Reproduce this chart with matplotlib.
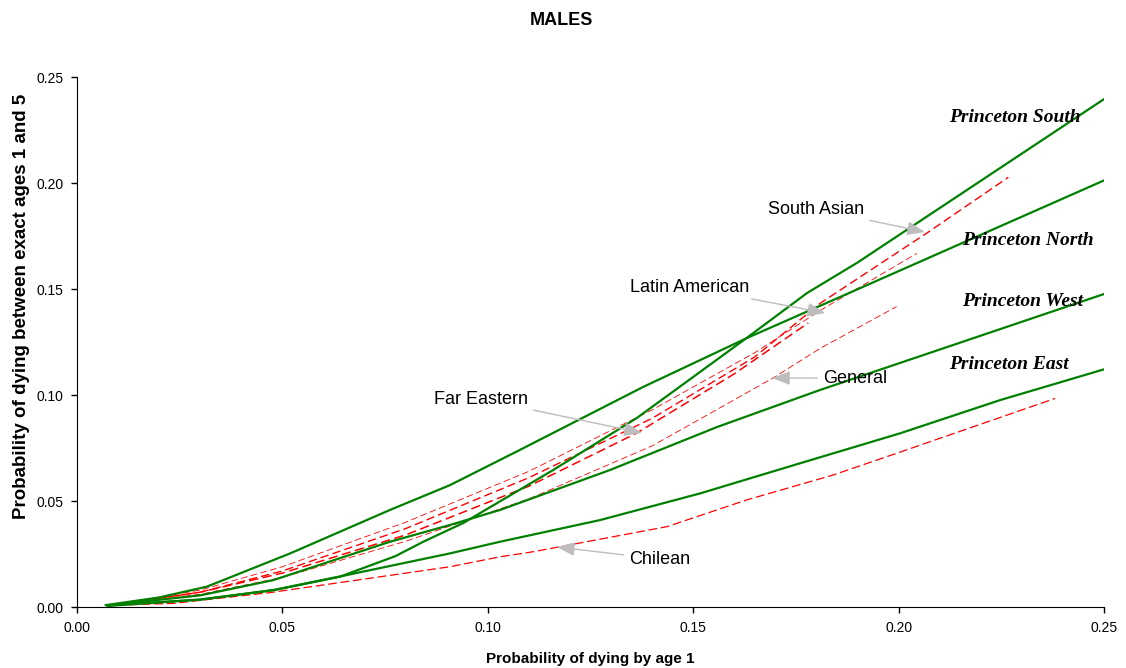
import matplotlib
matplotlib.use("Agg")
import matplotlib.pyplot as plt

# Princeton (Coale-Demeny) regional models, males: 1q0 vs 4q1
south_q0 = [0.0075, 0.030, 0.048, 0.064, 0.0775, 0.0843, 0.094, 0.1159, 0.1363, 0.163, 0.1777, 0.190, 0.262]
south_q1 = [0.0008, 0.0035, 0.008, 0.0143, 0.024, 0.0308, 0.0396, 0.0646, 0.0892, 0.1269, 0.1481, 0.1625, 0.255]
north_q0 = [0.0070, 0.020, 0.0316, 0.0519, 0.0762, 0.0908, 0.1078, 0.1378, 0.1631, 0.1857, 0.262]
north_q1 = [0.0009, 0.0045, 0.0096, 0.0253, 0.0458, 0.0575, 0.0741, 0.1038, 0.1269, 0.1462, 0.2115]
west_q0 = [0.0075, 0.030, 0.0478, 0.0762, 0.0908, 0.103, 0.1297, 0.1558, 0.1809, 0.262]
west_q1 = [0.0008, 0.0055, 0.0127, 0.0308, 0.0387, 0.0458, 0.0646, 0.0849, 0.1024, 0.1555]
east_q0 = [0.0075, 0.030, 0.0478, 0.064, 0.0908, 0.103, 0.1273, 0.1517, 0.176, 0.2003, 0.2247, 0.262]
east_q1 = [0.0005, 0.0035, 0.008, 0.0144, 0.0253, 0.0308, 0.041, 0.0536, 0.0678, 0.0819, 0.0976, 0.119]

# UN model life tables, males
latin_q0 = [0.009, 0.030, 0.050, 0.080, 0.110, 0.140, 0.165, 0.181, 0.2044]
latin_q1 = [0.001, 0.008, 0.019, 0.040, 0.064, 0.093, 0.120, 0.140, 0.1668]
sasian_q0 = [0.009, 0.030, 0.050, 0.080, 0.110, 0.140, 0.165, 0.181, 0.2068, 0.2267]
sasian_q1 = [0.001, 0.007, 0.017, 0.037, 0.061, 0.089, 0.118, 0.1434, 0.1763, 0.2027]
fareast_q0 = [0.009, 0.030, 0.050, 0.080, 0.110, 0.1362, 0.160, 0.178]
fareast_q1 = [0.001, 0.007, 0.016, 0.034, 0.057, 0.082, 0.110, 0.134]
general_q0 = [0.009, 0.030, 0.050, 0.080, 0.110, 0.140, 0.1694, 0.1809, 0.1995]
general_q1 = [0.001, 0.006, 0.014, 0.031, 0.051, 0.076, 0.108, 0.122, 0.1417]
chilean_q0 = [0.0097, 0.0234, 0.047, 0.0908, 0.103, 0.1111, 0.1436, 0.163, 0.1841, 0.1995, 0.2381]
chilean_q1 = [0.0009, 0.0017, 0.0068, 0.019, 0.0237, 0.0261, 0.0379, 0.0505, 0.0623, 0.0725, 0.0984]

ticks = [0.00, 0.05, 0.10, 0.15, 0.20, 0.25]

plt.rcParams['font.family'] = ['Liberation Sans', 'DejaVu Sans']

fig = plt.figure(figsize=(11.26, 6.68), dpi=100)
ax = fig.add_axes([0.0684, 0.0913, 0.9121, 0.7934])

green = '#008000'
red = '#ff0000'

# UN models (dashed red)
ax.plot(chilean_q0, chilean_q1, color=red, lw=0.9, dashes=(7, 3))
ax.plot(general_q0, general_q1, color=red, lw=0.6, dashes=(8, 4))
ax.plot(fareast_q0, fareast_q1, color=red, lw=1.1, dashes=(6, 3))
ax.plot(latin_q0, latin_q1, color=red, lw=0.6, dashes=(8, 4))
ax.plot(sasian_q0, sasian_q1, color=red, lw=1.0, dashes=(6, 3))

# Princeton models (solid green)
for xs, ys in [(south_q0, south_q1), (north_q0, north_q1),
               (west_q0, west_q1), (east_q0, east_q1)]:
    ax.plot(xs, ys, color=green, lw=1.6)

ax.set_xlim(0, 0.25)
ax.set_ylim(0, 0.25)
ax.set_xticks(ticks)
ax.set_yticks(ticks)
ax.set_xticklabels(['%.2f' % t for t in ticks])
ax.set_yticklabels(['%.2f' % t for t in ticks])
ax.tick_params(direction='out', length=4, width=1, labelsize=10, pad=6)
ax.spines['top'].set_visible(False)
ax.spines['right'].set_visible(False)

ax.set_xlabel('Probability of dying by age 1', fontsize=11, fontweight='bold', labelpad=12)
ax.set_ylabel('Probability of dying between exact ages 1 and 5', fontsize=13.5, fontweight='bold')
ax.yaxis.set_label_coords(-0.046, 0.568)
fig.text(0.4982, 0.970, 'MALES', ha='center', va='center', fontsize=13, fontweight='bold')

# Princeton labels
pfont = dict(family=['Liberation Serif', 'DejaVu Serif'], style='italic', weight='bold', fontsize=14)
ax.text(0.2123, 0.2307, 'Princeton South', va='center', **pfont)
ax.text(0.2154, 0.1731, 'Princeton North', va='center', **pfont)
ax.text(0.2154, 0.1443, 'Princeton West', va='center', **pfont)
ax.text(0.2123, 0.1142, 'Princeton East', va='center', **pfont)

# UN model annotations
arrow = dict(arrowstyle='-|>,head_length=0.9,head_width=0.35', mutation_scale=12,
             color='#bdbdbd', lw=1, shrinkA=2, shrinkB=0)
ax.annotate('South Asian', xy=(0.2064, 0.1769), xytext=(0.1799, 0.1877),
            ha='center', va='center', fontsize=13, arrowprops=arrow)
ax.annotate('Latin American', xy=(0.1821, 0.1387), xytext=(0.1492, 0.1509),
            ha='center', va='center', fontsize=13, arrowprops=arrow)
ax.annotate('Far Eastern', xy=(0.1375, 0.0821), xytext=(0.0983, 0.0981),
            ha='center', va='center', fontsize=13, arrowprops=arrow)
ax.annotate('General', xy=(0.1692, 0.108), xytext=(0.1894, 0.108),
            ha='center', va='center', fontsize=13, arrowprops=arrow)
ax.annotate('Chilean', xy=(0.1168, 0.0283), xytext=(0.1419, 0.0226),
            ha='center', va='center', fontsize=13, arrowprops=arrow)

fig.savefig('out.png', dpi=100)
